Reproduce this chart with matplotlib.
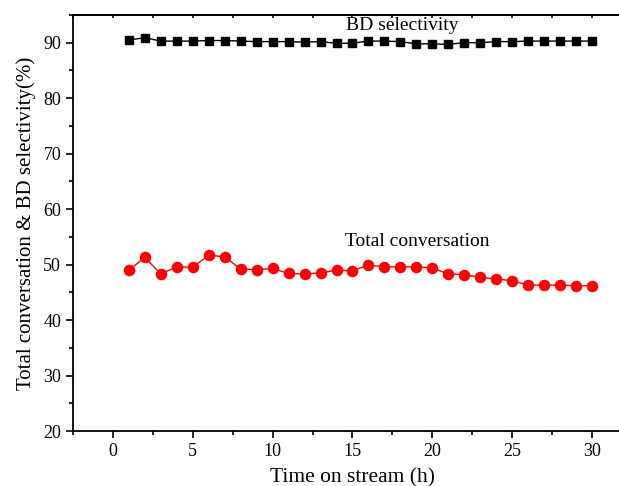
import matplotlib.pyplot as plt
from matplotlib.ticker import MultipleLocator

plt.rcParams['font.family'] = ['Liberation Serif', 'DejaVu Serif']

# datos
hours = list(range(1, 31))
bd_selectivity = [90.5, 90.9, 90.3, 90.3, 90.3, 90.4, 90.4, 90.3, 90.2, 90.2,
                  90.2, 90.1, 90.2, 89.9, 89.9, 90.3, 90.3, 90.2, 89.8, 89.8,
                  89.7, 90.0, 90.0, 90.2, 90.2, 90.3, 90.3, 90.3, 90.3, 90.3]
total_conversion = [49.0, 51.3, 48.3, 49.6, 49.5, 51.7, 51.4, 49.2, 49.1, 49.3,
                    48.4, 48.3, 48.5, 49.0, 48.9, 49.9, 49.6, 49.6, 49.6, 49.4,
                    48.3, 48.2, 47.7, 47.4, 47.1, 46.3, 46.3, 46.3, 46.2, 46.2]

fig = plt.figure(figsize=(6.19, 4.86), dpi=100)
# el eje derecho queda fuera de la imagen, como en el original
ax = fig.add_axes([73 / 619, 55 / 486, 35 * 15.97 / 619, 416 / 486])

ax.plot(hours, bd_selectivity, color='black', marker='s', markersize=5.5,
        linewidth=1)
ax.plot(hours, total_conversion, color='red', marker='o', markersize=7.3,
        linewidth=1)

fig.text(402 / 619, 1 - 25 / 486, 'BD selectivity', fontsize=14,
         ha='center', va='center')
fig.text(417 / 619, 1 - 241 / 486, 'Total conversation', fontsize=14,
         ha='center', va='center')

ax.set_xlim(-2.5, 32.5)
ax.set_ylim(20, 95)
ax.xaxis.set_major_locator(MultipleLocator(5))
ax.xaxis.set_minor_locator(MultipleLocator(2.5))
ax.yaxis.set_major_locator(MultipleLocator(10))
ax.yaxis.set_minor_locator(MultipleLocator(5))
ax.tick_params(axis='both', which='both', direction='out', labelsize=13,
               width=1.2)
ax.tick_params(which='major', length=5)
ax.tick_params(which='minor', length=3)
ax.spines['right'].set_visible(False)
for s in ax.spines.values():
    s.set_linewidth(1.3)

# marcas pequenas hacia dentro en el borde superior
top = ax.secondary_xaxis('top')
top.xaxis.set_major_locator(MultipleLocator(5))
top.xaxis.set_minor_locator(MultipleLocator(2.5))
top.tick_params(which='both', direction='in', length=2, width=1.2,
                labeltop=False)
top.spines['top'].set_linewidth(1.3)

ax.set_xlabel('Time on stream (h)', fontsize=15.5, labelpad=6)
ax.set_ylabel('Total conversation & BD selectivity(%)', fontsize=15,
              labelpad=5)

fig.savefig('out.png', dpi=100)
